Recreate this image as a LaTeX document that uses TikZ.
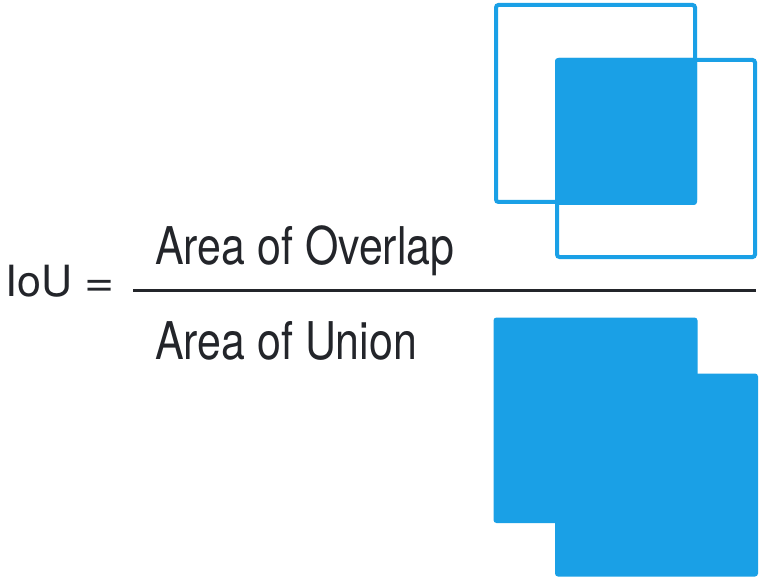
\documentclass[tikz,border=0pt]{standalone}
\usepackage{fontspec}
\setmainfont{TeX Gyre Heros}
\definecolor{ioublue}{RGB}{26,160,230}
\definecolor{ink}{RGB}{35,37,42}
\begin{document}
\begin{tikzpicture}[x=1pt,y=-1pt,
  outlinebox/.style={draw=ioublue,line width=4pt,rounded corners=2.5pt},
  fillbox/.style={fill=ioublue,rounded corners=3pt},
  bigtext/.style={inner sep=0pt,anchor=base west,text=ink,font=\fontsize{52}{60}\selectfont},
  eqtext/.style={inner sep=0pt,anchor=base west,text=ink,font=\fontsize{43}{50}\selectfont}]
\useasboundingbox[fill=white] (0,0) rectangle (759,577);
% top: two outlined boxes with filled overlap
\draw[outlinebox] (496,5) rectangle (695,202);
\draw[outlinebox] (557,60) rectangle (755,257);
\fill[fillbox] (555,58) rectangle (697,205);
% bottom: filled union
\fill[fillbox] (493.5,317.5) rectangle (697.5,523);
\fill[fillbox] (555,373.5) rectangle (758,576.5);
% formula
\node[eqtext] (iou) at (5,296) {IoU \scalebox{1.2}[1]{=}};
\node[bigtext] (num) at (155,264) {\scalebox{0.825}[1]{Area of Overlap}};
\node[bigtext] (den) at (155,359) {\scalebox{0.825}[1]{Area of Union}};
\coordinate (l1) at (133,290.5);
\coordinate (l2) at (756,290.5);
\draw[ink,line width=3.5pt] (l1) -- (l2);
\end{tikzpicture}
\end{document}
